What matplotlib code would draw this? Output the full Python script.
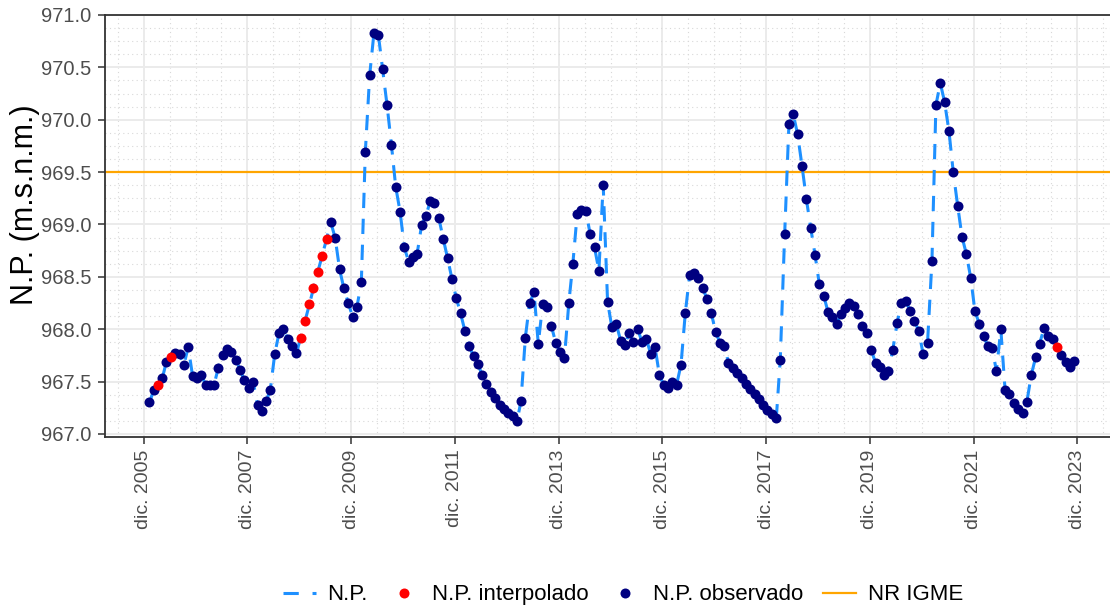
import numpy as np
import pandas as pd
import matplotlib
matplotlib.use("Agg")
import matplotlib.pyplot as plt
import matplotlib.ticker as mticker
from matplotlib.lines import Line2D

plt.rcParams['font.family'] = ['Liberation Sans', 'DejaVu Sans']

# # datos: nivel piezometrico mensual, ene 2006 - nov 2023
fechas = pd.date_range('2006-01-01', periods=215, freq='MS') + pd.Timedelta(days=9)

nivel = [
    967.30, 967.42, 967.47, 967.53, 967.69, 967.73, 967.77, 967.76, 967.66, 967.83,
    967.55, 967.53, 967.56, 967.47, 967.47, 967.47, 967.63, 967.75, 967.81, 967.78,
    967.71, 967.61, 967.51, 967.44, 967.50, 967.28, 967.22, 967.31, 967.42, 967.76,
    967.96, 968.00, 967.91, 967.84, 967.77, 967.92, 968.08, 968.24, 968.39, 968.55,
    968.70, 968.86, 969.02, 968.87, 968.57, 968.39, 968.25, 968.12, 968.21, 968.45,
    969.69, 970.43, 970.83, 970.81, 970.48, 970.14, 969.76, 969.36, 969.12, 968.78,
    968.64, 968.69, 968.72, 968.99, 969.08, 969.22, 969.20, 969.06, 968.86, 968.68,
    968.48, 968.30, 968.15, 967.98, 967.84, 967.74, 967.67, 967.56, 967.48, 967.40,
    967.34, 967.28, 967.24, 967.20, 967.17, 967.12, 967.31, 967.92, 968.25, 968.35,
    967.86, 968.24, 968.21, 968.03, 967.87, 967.78, 967.72, 968.25, 968.62, 969.10,
    969.14, 969.13, 968.91, 968.78, 968.56, 969.38, 968.26, 968.02, 968.05, 967.89,
    967.85, 967.96, 967.88, 968.00, 967.88, 967.91, 967.76, 967.83, 967.56, 967.47,
    967.44, 967.50, 967.47, 967.66, 968.15, 968.52, 968.54, 968.49, 968.39, 968.29,
    968.15, 967.97, 967.87, 967.84, 967.68, 967.63, 967.58, 967.53, 967.48, 967.43,
    967.38, 967.33, 967.28, 967.23, 967.19, 967.15, 967.71, 968.91, 969.96, 970.05,
    969.86, 969.56, 969.24, 968.97, 968.71, 968.43, 968.32, 968.16, 968.12, 968.05,
    968.14, 968.20, 968.25, 968.22, 968.14, 968.03, 967.96, 967.80, 967.68, 967.64,
    967.56, 967.60, 967.80, 968.06, 968.25, 968.27, 968.17, 968.08, 967.98, 967.76,
    967.87, 968.65, 970.14, 970.35, 970.17, 969.89, 969.50, 969.18, 968.88, 968.72,
    968.49, 968.17, 968.05, 967.93, 967.84, 967.82, 967.60, 968.00, 967.42, 967.38,
    967.29, 967.24, 967.20, 967.30, 967.56, 967.73, 967.86, 968.01, 967.93, 967.91,
    967.83, 967.75, 967.69, 967.64, 967.70,
]

# posiciones (indice) de los valores interpolados
interpolados = [2, 5, 35, 36, 37, 38, 39, 40, 41, 210]

nr_igme = 969.5

anios_ticks = list(range(2005, 2024, 2))
etiquetas_x = ['dic. %d' % a for a in anios_ticks]

nivel = np.array(nivel)
es_interp = np.zeros(len(nivel), dtype=bool)
es_interp[interpolados] = True

fig = plt.figure(figsize=(11.1, 6.07), dpi=100)
ax = fig.add_axes([105/1110, 1 - 437/607, (1114 - 105)/1110, (437 - 15)/607])

gris_txt = '#4D4D4D'
borde = '#333333'

ax.axhline(nr_igme, color='#FFA500', lw=1.6, zorder=2)
ax.plot(fechas, nivel, color='#1E90FF', lw=2.2, dashes=(5, 3.5), zorder=3)
ax.plot(fechas[~es_interp], nivel[~es_interp], 'o', color='#000080', ms=7.2, mew=0, zorder=4)
ax.plot(fechas[es_interp], nivel[es_interp], 'o', color='#FF0000', ms=7.2, mew=0, zorder=5)

ax.set_xlim(pd.Timestamp('2005-03-03'), pd.Timestamp('2024-08-15'))
ax.set_ylim(966.97, 971.0)

ax.set_xticks([pd.Timestamp('%d-12-01' % a) for a in anios_ticks])
ax.set_xticklabels(etiquetas_x, rotation=90)
ax.set_xticks(pd.date_range('2005-06-01', '2024-06-01', freq='6MS'), minor=True)
ax.yaxis.set_major_locator(mticker.MultipleLocator(0.5))
ax.yaxis.set_minor_locator(mticker.MultipleLocator(0.125))
ax.yaxis.set_major_formatter(mticker.FormatStrFormatter('%.1f'))

ax.grid(True, which='major', color='#EBEBEB', lw=1.4, zorder=0)
ax.grid(True, which='minor', color='#D8D8D8', lw=0.8, ls=(0, (1, 3)), zorder=0)
ax.set_axisbelow(True)

ax.tick_params(axis='y', which='major', labelsize=14.5, labelcolor=gris_txt,
               color=borde, length=5, width=1.1, pad=5)
ax.tick_params(axis='x', which='major', labelsize=14, labelcolor=gris_txt,
               color=borde, length=5, width=1.1, pad=4)
ax.tick_params(axis='both', which='minor', length=0)
for s in ['left', 'bottom', 'top', 'right']:
    ax.spines[s].set_color(borde)
    ax.spines[s].set_linewidth(1.3)

fig.text(25/1110, 1 - 205/607, 'N.P. (m.s.n.m.)', fontsize=22, color='black',
         rotation=90, ha='center', va='center')

handles = [
    Line2D([], [], color='#1E90FF', lw=2.2, dashes=(5, 4.5)),
    Line2D([], [], marker='o', ls='', color='#FF0000', ms=7.2, mew=0),
    Line2D([], [], marker='o', ls='', color='#000080', ms=7.2, mew=0),
    Line2D([], [], color='#FFA500', lw=1.6),
]
fig.legend(handles, ['N.P.', 'N.P. interpolado', 'N.P. observado', 'NR IGME'],
           loc='center', bbox_to_anchor=(0.561, 0.02), ncol=4, frameon=False,
           fontsize=16, handlelength=1.5, columnspacing=0.9, handletextpad=0.5)

fig.savefig('out.png', dpi=100)
